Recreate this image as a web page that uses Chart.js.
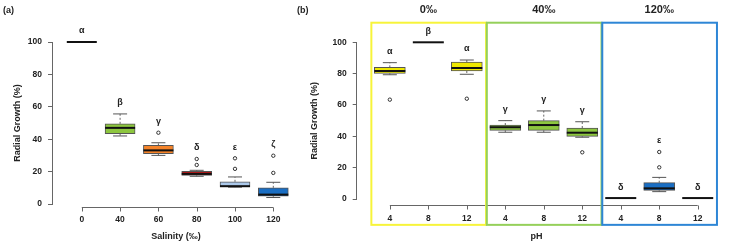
<!DOCTYPE html>
<html>
<head>
<meta charset="utf-8">
<script src="https://cdn.jsdelivr.net/npm/chart.js@4.4.0/dist/chart.umd.min.js"></script>
<style>
  html, body { margin: 0; padding: 0; background: #fff; }
  #wrap { position: relative; width: 734px; height: 245px; }
  canvas { position: absolute; left: 0; top: 0; }
</style>
</head>
<body>
<div id="wrap">
  <canvas id="chartA" width="734" height="245"></canvas>
  <canvas id="chartB" width="734" height="245"></canvas>
</div>
<script>
// ---- panel (a): salinity ----
const salLabels = ['0', '40', '60', '80', '100', '120'];
const salMin = [100, 42, 30, 17.1, 10.4, 4.0];
const salQ1 = [100, 43.4, 31.1, 17.7, 10.6, 4.8];
const salMed = [100, 47, 33.1, 18.6, 11.0, 5.8];
const salQ3 = [100, 49.5, 36.2, 20.2, 13.7, 10];
const salMax = [100, 55.6, 37.8, 20.8, 16.7, 13.4];
const salOut = [[], [], [44], [24.1, 27.8], [21.7, 28.2], [19.2, 29.8]];
const salLetters = ['α', 'β', 'γ', 'δ', 'ε', 'ζ'];
const salColors = ['rgba(0,0,0,0)', '#8dc63f', '#f5842a', '#c21a1a', '#abc8ea', '#1a6ec3'];

// ---- panel (b): pH within salinity groups ----
const phLabels = ['4', '8', '12', '4', '8', '12', '4', '8', '12'];
const phMin = [79.3, 100, 79.6, 42.6, 42.6, 39.4, 0.6, 4.7, 0.6];
const phQ1 = [80.2, 100, 81.7, 43.8, 43.8, 40, 0.6, 5.5, 0.6];
const phMed = [81.7, 100, 83.6, 45.8, 47.2, 42.3, 0.6, 6.8, 0.6];
const phQ3 = [84, 100, 87.4, 47.2, 50, 45.3, 0.6, 10.4, 0.6];
const phMax = [87, 100, 88.7, 50, 56.2, 49.3, 0.6, 13.8, 0.6];
const phOut = [[63.4], [], [64], [], [], [29.8], [], [20.2, 30], []];
const phLetters = ['α', 'β', 'α', 'γ', 'γ', 'γ', 'δ', 'ε', 'δ'];
const phColors = ['#eee800', 'rgba(0,0,0,0)', '#eee800', '#8dc63f', '#8dc63f', '#8dc63f', 'rgba(0,0,0,0)', '#1a6ec3', 'rgba(0,0,0,0)'];
const groupLabels = ['0‰', '40‰', '120‰'];
const groupColors = ['#f7f43a', '#95d05a', '#2e86d6'];

const FONT = '"Liberation Sans", Arial, Helvetica, sans-serif';
const TXT = '#222';
const AXIS = '#666';

function boxDatasets(mins, q1, med, q3, maxs, outs, colors, width) {
  const stems = [];
  const caps = [];
  const points = [];
  med.forEach((m, i) => {
    const x = i + 1;
    stems.push({x, y: q3[i]}, {x, y: maxs[i]}, {x, y: null});
    stems.push({x, y: q1[i]}, {x, y: mins[i]}, {x, y: null});
    if (maxs[i] !== mins[i]) caps.push({x, y: maxs[i]}, {x, y: mins[i]});
    outs[i].forEach(v => points.push({x, y: v}));
  });
  return [
    { type: 'line', data: stems, borderColor: AXIS, borderWidth: 1, borderDash: [2, 2],
      pointRadius: 0, spanGaps: false, clip: false, order: 4 },
    { type: 'bar', data: med.map((m, i) => ({x: i + 1, y: [q1[i], q3[i]]})),
      backgroundColor: colors, borderColor: colors.map(c => c.startsWith('rgba') ? c : '#555'),
      borderWidth: 1, borderSkipped: false, barThickness: width, clip: false, order: 3 },
    { type: 'line', data: caps, showLine: false, pointStyle: 'line', pointRadius: 7,
      borderColor: '#555', pointBorderColor: '#555', pointBorderWidth: 1, clip: false, order: 2 },
    { type: 'line', data: med.map((m, i) => ({x: i + 1, y: m})), showLine: false,
      pointStyle: 'line', pointRadius: width / 2, borderColor: '#111',
      pointBorderColor: '#111', pointBorderWidth: 2, clip: false, order: 1 },
    { type: 'line', data: points, showLine: false, pointStyle: 'circle', pointRadius: 1.7,
      borderColor: '#333', pointBorderColor: '#333', pointBackgroundColor: '#fff',
      pointBorderWidth: 1, clip: false, order: 0 }
  ];
}

// R-like extras: detached x axis, letters, panel tag, group frames
function rPlugin(cfg) {
  return {
    id: 'rStyle',
    afterDraw(chart) {
      const {ctx, chartArea} = chart;
      const xs = chart.scales.x, ys = chart.scales.y;
      const n = cfg.labels.length;
      ctx.save();
      ctx.strokeStyle = AXIS;
      ctx.lineWidth = 1;
      const ay = Math.round(chartArea.bottom + cfg.axisGap) + 0.5;
      ctx.beginPath();
      ctx.moveTo(xs.getPixelForValue(1), ay);
      ctx.lineTo(xs.getPixelForValue(n), ay);
      for (let i = 1; i <= n; i++) {
        const px = Math.round(xs.getPixelForValue(i)) + 0.5;
        ctx.moveTo(px, ay);
        ctx.lineTo(px, ay + 4);
      }
      ctx.stroke();

      ctx.fillStyle = TXT;
      ctx.font = 'bold 9px ' + FONT;
      ctx.textAlign = 'center';
      ctx.textBaseline = 'middle';
      cfg.letters.forEach((t, i) => {
        const top = Math.max(cfg.maxs[i], ...cfg.outs[i]);
        ctx.fillText(t, xs.getPixelForValue(i + 1), ys.getPixelForValue(top) - 11);
      });

      ctx.textAlign = 'left';
      ctx.fillText(cfg.tag, cfg.tagX, 11);

      if (cfg.groups) {
        cfg.groups.forEach((g, k) => {
          const l = xs.getPixelForValue(3 * k + 0.52);
          const r = xs.getPixelForValue(3 * k + 3.5);
          const t = ys.getPixelForValue(112.5);
          const b = ys.getPixelForValue(-16.5);
          ctx.strokeStyle = cfg.groupColors[k];
          ctx.lineWidth = 2;
          ctx.strokeRect(l, t, r - l, b - t);
          ctx.fillStyle = TXT;
          ctx.font = 'bold 11px ' + FONT;
          ctx.textAlign = 'center';
          ctx.fillText(g, xs.getPixelForValue(3 * k + 2), 10);
        });
      }
      ctx.restore();
    }
  };
}

function makeChart(id, o) {
  const tickFont = {family: FONT, size: 8.5, weight: 'bold'};
  const titleFont = {family: FONT, size: 9, weight: 'bold'};
  return new Chart(document.getElementById(id), {
    type: 'bar',
    data: {datasets: boxDatasets(o.mins, o.q1, o.med, o.q3, o.maxs, o.outs, o.colors, o.width)},
    options: {
      responsive: false,
      animation: false,
      events: [],
      layout: {padding: o.padding},
      plugins: {legend: {display: false}, tooltip: {enabled: false}},
      scales: {
        x: {
          type: 'linear',
          offset: false,
          min: o.xMin,
          max: o.xMax,
          grid: {display: false, drawTicks: false},
          border: {display: false},
          afterBuildTicks: s => { s.ticks = o.labels.map((l, i) => ({value: i + 1})); },
          ticks: {callback: (v, i) => o.labels[i], font: tickFont, color: TXT,
                  padding: o.xTickPad, autoSkip: false, maxRotation: 0},
          title: {display: true, text: o.xTitle, font: titleFont, color: TXT,
                  padding: {top: 0, bottom: 3}},
          afterFit: s => { s.height = o.xHeight; }
        },
        y: {
          min: 0,
          max: 100,
          ticks: {stepSize: 20, padding: 6, font: tickFont, color: TXT},
          grid: {drawOnChartArea: false, drawTicks: true, tickLength: 4, color: AXIS},
          border: {display: true, color: AXIS},
          title: {display: true, text: 'Radial Growth (%)', font: titleFont, color: TXT,
                  padding: {top: o.yTitlePad, bottom: 0}},
          afterFit: s => { s.width = o.yWidth; }
        }
      }
    },
    plugins: [rPlugin(o)]
  });
}

makeChart('chartA', {
  labels: salLabels, mins: salMin, q1: salQ1, med: salMed, q3: salQ3, maxs: salMax,
  outs: salOut, letters: salLetters, colors: salColors, width: 30,
  padding: {left: 0, top: 42, right: 434, bottom: 0},
  xMin: 0.222, xMax: 6.697, xHeight: 41, xTickPad: 11, xTitle: 'Salinity (‰)',
  yWidth: 52, yTitlePad: 12.6, axisGap: 3, tag: '(a)', tagX: 3
});

makeChart('chartB', {
  labels: phLabels, mins: phMin, q1: phQ1, med: phMed, q3: phQ3, maxs: phMax,
  outs: phOut, letters: phLetters, colors: phColors, width: 31,
  padding: {left: 306.7, top: 42.3, right: 8, bottom: 0},
  xMin: 0.139, xMax: 9.488, xHeight: 46, xTickPad: 15, xTitle: 'pH',
  yWidth: 50, yTitlePad: 2.9, axisGap: 6, tag: '(b)', tagX: 297,
  groups: groupLabels, groupColors: groupColors
});
</script>
</body>
</html>
